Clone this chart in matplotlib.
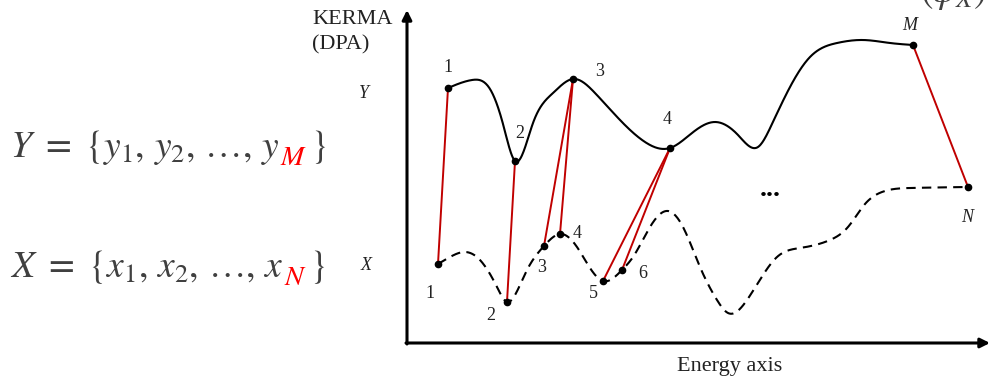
import numpy as np
import matplotlib
matplotlib.use("Agg")
import matplotlib.pyplot as plt

plt.rcParams["mathtext.fontset"] = "stix"
SERIF = "Liberation Serif"

# Spectrum Y (solid): knots along the energy axis and their KERMA values
y_energy = [448, 472, 490, 503, 515, 533, 553, 573, 595, 620, 645, 670, 692,
            715, 738, 758, 772, 790, 810, 837, 863, 890, 913]
y_kerma = [294, 302, 293, 258, 221, 259, 289, 303, 289, 262, 240, 234, 249,
           260, 247, 235, 258, 295, 325, 339, 342, 339, 337]

# Spectrum X (dashed)
x_energy = [438, 450, 465, 478, 497, 507, 515, 527, 544, 560, 577, 590, 603,
            622, 633, 650, 668, 683, 700, 717, 728, 747, 777, 800, 830, 848,
            865, 882, 910, 968]
x_kerma = [118, 125, 130, 124, 95, 80, 87, 112, 136, 148, 135, 114, 101,
           112, 125, 155, 171, 155, 115, 82, 69, 82, 125, 134, 142, 155,
           178, 190, 194, 195]

# Labelled samples on each spectrum
y_pts_e = [448, 515, 573, 670, 913]
y_pts_k = [294, 221, 303, 234, 337]
y_pts_lab = ["1", "2", "3", "4", "M"]

x_pts_e = [438, 507, 544, 560, 603, 622, 968]
x_pts_k = [118, 80, 136, 148, 101, 112, 195]
x_pts_lab = ["1", "2", "3", "4", "5", "6", "N"]

# Which X sample each Y sample is linked to
links = [(0, 0), (1, 1), (2, 2), (2, 3), (3, 4), (3, 5), (4, 6)]


def natural_spline(x, y, xs):
    x = np.asarray(x, float)
    y = np.asarray(y, float)
    n = len(x)
    h = np.diff(x)
    d = np.diff(y) / h
    A = np.zeros((n, n))
    b = np.zeros(n)
    A[0, 0] = A[-1, -1] = 1.0
    for i in range(1, n - 1):
        A[i, i - 1] = h[i - 1]
        A[i, i] = 2 * (h[i - 1] + h[i])
        A[i, i + 1] = h[i]
        b[i] = 6 * (d[i] - d[i - 1])
    M = np.linalg.solve(A, b)
    i = np.clip(np.searchsorted(x, xs) - 1, 0, n - 2)
    hi = h[i]
    a = x[i + 1] - xs
    c = xs - x[i]
    return (M[i] * a**3 / (6 * hi) + M[i + 1] * c**3 / (6 * hi)
            + (y[i] / hi - M[i] * hi / 6) * a
            + (y[i + 1] / hi - M[i + 1] * hi / 6) * c)


fig = plt.figure(figsize=(9.9, 3.82), dpi=100)
ax = fig.add_axes([0, 0, 1, 1])
ax.set_xlim(0, 990)
ax.set_ylim(0, 382)
ax.axis("off")

# axes with arrows
ax.annotate("", xy=(407, 372), xytext=(407, 38), annotation_clip=False,
            arrowprops=dict(arrowstyle="-|>", lw=2.2, color="black",
                            mutation_scale=14, shrinkA=0, shrinkB=0))
ax.annotate("", xy=(990, 39), xytext=(406, 39), annotation_clip=False,
            arrowprops=dict(arrowstyle="-|>", lw=2.2, color="black",
                            mutation_scale=14, shrinkA=0, shrinkB=0))

# spectra
es = np.linspace(y_energy[0], y_energy[-1], 800)
ax.plot(es, natural_spline(y_energy, y_kerma, es), color="black", lw=1.5)
es = np.linspace(x_energy[0], x_energy[-1], 800)
ax.plot(es, natural_spline(x_energy, x_kerma, es), color="black", lw=1.5,
        linestyle=(0, (4.5, 3)))

# links between samples
for i, j in links:
    ax.plot([y_pts_e[i], x_pts_e[j]], [y_pts_k[i], x_pts_k[j]],
            color="#c00000", lw=1.4)

ax.plot(y_pts_e, y_pts_k, "o", color="black", ms=4.5, zorder=5)
ax.plot(x_pts_e, x_pts_k, "o", color="black", ms=4.5, zorder=5)

# sample labels
y_lab_pos = [(448, 314), (520, 249), (600, 310), (667, 262), (910, 357)]
x_lab_pos = [(430, 89), (491, 67), (542, 115), (577, 149), (593, 89),
             (643, 108), (967, 165)]
for lab, (px, py) in zip(y_pts_lab, y_lab_pos):
    ax.text(px, py, lab, family=SERIF, fontsize=13, ha="center", va="center",
            style="italic" if lab.isalpha() else "normal", color="#222222")
for lab, (px, py) in zip(x_pts_lab, x_lab_pos):
    ax.text(px, py, lab, family=SERIF, fontsize=13, ha="center", va="center",
            style="italic" if lab.isalpha() else "normal", color="#222222")

ax.text(770, 193, "...", family=SERIF, fontsize=20, ha="center",
        va="center", weight="bold")

# axis labels
ax.text(312, 362, "KERMA", family=SERIF, fontsize=16, ha="left", va="center",
        color="#222222")
ax.text(312, 337, "(DPA)", family=SERIF, fontsize=16, ha="left", va="center",
        color="#222222")
ax.text(364, 289, "Y", family=SERIF, fontsize=13, style="italic",
        ha="center", va="center", color="#222222")
ax.text(366, 116, "X", family=SERIF, fontsize=13, style="italic",
        ha="center", va="center", color="#222222")
ax.text(730, 15, "Energy axis", family=SERIF, fontsize=16, ha="center",
        va="center", color="#222222")

# set notation on the left, with the last index in red
eq_gray = "#404040"
eq_size = 27


def set_notation(base_y, letter):
    lo = letter.lower()
    t1 = ax.text(10, base_y,
                 rf"${letter}\ =\ \{{{lo}_1,\,{lo}_2,\,\ldots,\,{lo}$",
                 fontsize=eq_size, color=eq_gray, ha="left", va="baseline")
    idx = "M" if letter == "Y" else "N"
    t2 = ax.annotate(rf"${idx}$", xy=(1, base_y),
                     xycoords=(t1, "data"), xytext=(0, -6),
                     textcoords="offset points", fontsize=eq_size * 0.75,
                     color="red", ha="left", va="baseline")
    ax.annotate(r"$\}$", xy=(1, base_y), xycoords=(t2, "data"),
                xytext=(2, 0), textcoords="offset points", fontsize=eq_size,
                color=eq_gray, ha="left", va="baseline")


set_notation(225, "Y")
set_notation(105, "X")

# partially visible annotation at the top edge
ax.text(920, 380, r"$(\varphi_X)$", fontsize=eq_size, color=eq_gray,
        ha="left", va="baseline")

fig.savefig("out.png", dpi=100)
